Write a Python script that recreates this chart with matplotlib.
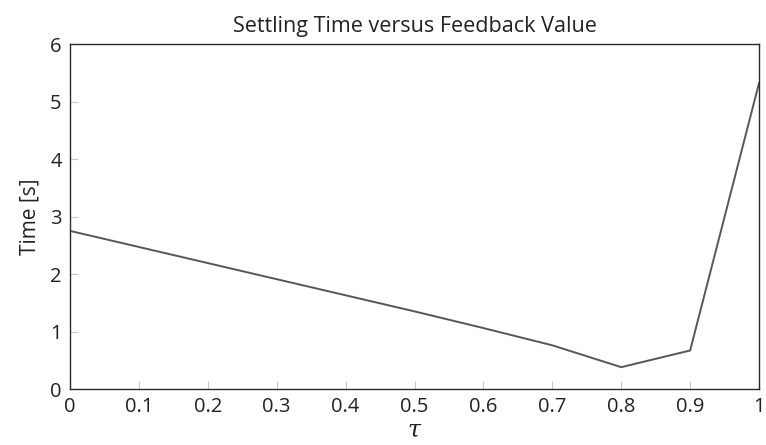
import numpy as np
import matplotlib.pyplot as plt

plt.rcParams["font.family"] = ["Open Sans", "DejaVu Sans"]
plt.rcParams["mathtext.fontset"] = "dejavuserif"

# feedback value tau and measured settling time
tau = [0.0, 0.1, 0.2, 0.3, 0.4, 0.5, 0.6, 0.7, 0.8, 0.9, 1.0]
settling_time = [2.75, 2.47, 2.19, 1.91, 1.63, 1.35, 1.06, 0.76, 0.38, 0.67, 5.32]

x_ticks = [0, 0.1, 0.2, 0.3, 0.4, 0.5, 0.6, 0.7, 0.8, 0.9, 1]
x_tick_labels = ["0", "0.1", "0.2", "0.3", "0.4", "0.5", "0.6", "0.7", "0.8", "0.9", "1"]
y_ticks = [0, 1, 2, 3, 4, 5, 6]

fig = plt.figure(figsize=(7.66, 4.45), dpi=100)
ax = fig.add_axes([0.0914, 0.1258, 0.8995, 0.7753])

ax.plot(tau, settling_time, color="#575757", linewidth=1.4, solid_joinstyle="miter")

ax.set_xlim(0, 1)
ax.set_ylim(0, 6)
ax.set_xticks(x_ticks)
ax.set_xticklabels(x_tick_labels)
ax.set_yticks(y_ticks)

for side in ax.spines.values():
    side.set_color("#2b2b2b")
    side.set_linewidth(1.0)

ax.tick_params(direction="in", length=6, width=0.8, color="#c8c8c8",
               labelsize=14.5, labelcolor="#222222", pad=6,
               top=False, right=False)

ax.set_title("Settling Time versus Feedback Value", fontsize=15.5, color="#222222", pad=9)
ax.set_xlabel(r"$\tau$", fontsize=17, color="#222222", labelpad=1)
ax.set_ylabel("Time [s]", fontsize=15, color="#222222", labelpad=7)

fig.savefig("out.png", dpi=100)
